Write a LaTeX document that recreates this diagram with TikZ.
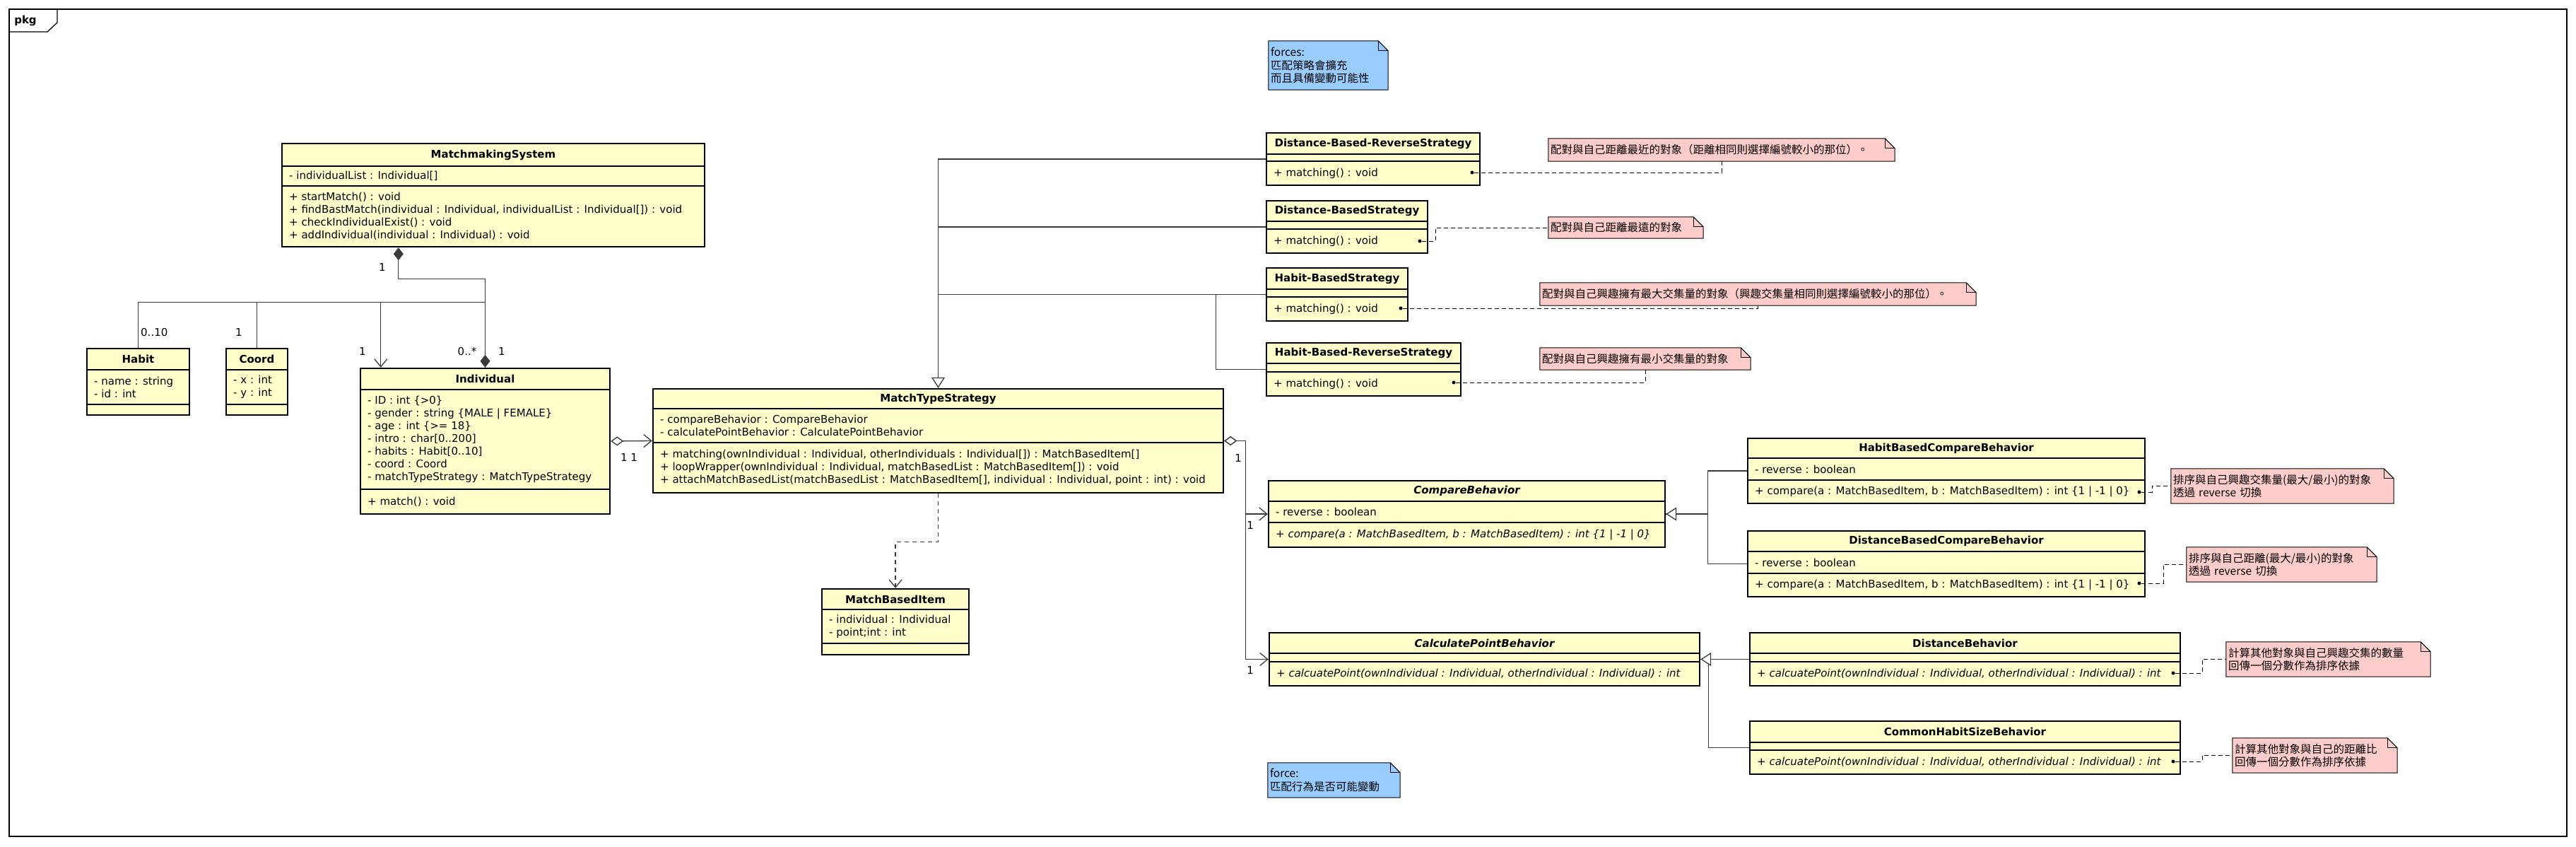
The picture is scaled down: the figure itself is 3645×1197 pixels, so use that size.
\documentclass[tikz,border=0pt]{standalone}
\usepackage{fontspec}
\setmainfont{DejaVu Sans}
\newfontfamily\cjk{Noto Sans CJK TC}
\usetikzlibrary{arrows.meta}
\definecolor{clsfill}{HTML}{FFFFCC}
\definecolor{pinknote}{HTML}{FFCCCC}
\definecolor{bluenote}{HTML}{99CCFF}
\definecolor{linegray}{HTML}{3A3A3A}
\tikzset{
  cls/.style={draw, line width=2.4pt, fill=clsfill, inner sep=0pt},
  sep/.style={line width=1.2pt},
  ttl/.style={font=\fontsize{15}{18}\selectfont\bfseries, inner sep=0pt},
  txt/.style={font=\fontsize{15}{18}\selectfont, align=left, inner sep=0pt, anchor=west},
  mult/.style={font=\fontsize{15}{18}\selectfont, inner sep=0pt},
  note/.style={inner xsep=3pt, inner ysep=0pt, align=left, font=\cjk\fontsize{15.5}{18.5}\selectfont},
  dot/.style={circle, fill, inner sep=0pt, minimum size=5pt},
  conn/.style={draw=linegray, line width=1.3pt},
  gen/.style={conn, -{Triangle[open, length=15pt, width=19pt, fill=white]}},
  agg/.style={conn, {Diamond[open, length=18pt, width=13pt, fill=white]}-{Straight Barb[length=11pt, width=18pt]}},
  comp/.style={conn, {Diamond[length=18pt, width=14pt]}-},
  assoc/.style={conn, -{Straight Barb[length=11pt, width=18pt]}},
  dep/.style={conn, dash pattern=on 6pt off 5pt, -{Straight Barb[length=11pt, width=18pt]}},
  noteln/.style={draw=black, line width=1pt, dash pattern=on 6pt off 4pt}
}
\begin{document}
\begin{tikzpicture}[x=1pt, y=-1pt]
  \useasboundingbox (0,0) rectangle (3645,1197);
  % frame
  \draw[line width=1.3pt] (13,13) rectangle (3632,1183);
  \draw[line width=1.3pt] (13,45) -- (67,45) -- (81,32) -- (81,13);
  \node[ttl] (pkg) at (36,29) {pkg};

  % MatchmakingSystem
  \node[cls, minimum width=598pt, minimum height=146pt] (ms) at (698,276) {};
  \draw[sep] (399,235) -- (997,235) (399,263) -- (997,263);
  \node[ttl] (msT) at (698,219) {MatchmakingSystem};
  \node[txt] (msA) at (409,249) {- individualList : Individual[]};
  \node[txt] (msM) at (409,306) {+ startMatch() : void\\+ findBastMatch(individual : Individual, individualList : Individual[]) : void\\+ checkIndividualExist() : void\\+ addIndividual(individual : Individual) : void};

  % Habit, Coord
  \node[cls, minimum width=145pt, minimum height=94pt] (habit) at (195.5,540) {};
  \draw[sep] (123,523) -- (268,523) (123,572) -- (268,572);
  \node[ttl] (habitT) at (195.5,508) {Habit};
  \node[txt] (habitA) at (133,547.5) {- name : string\\- id : int};
  \node[cls, minimum width=87pt, minimum height=94pt] (coord) at (363.5,540) {};
  \draw[sep] (320,523) -- (407,523) (320,572) -- (407,572);
  \node[ttl] (coordT) at (363.5,508) {Coord};
  \node[txt] (coordA) at (330,547.5) {- x : int\\- y : int};

  % Individual
  \node[cls, minimum width=353pt, minimum height=206pt] (indiv) at (686.5,624) {};
  \draw[sep] (510,551) -- (863,551) (510,692) -- (863,692);
  \node[ttl] (indivT) at (686.5,536) {Individual};
  \node[txt] (indivA) at (520,621.5) {- ID : int \{>0\}\\- gender : string \{MALE | FEMALE\}\\- age : int \{>= 18\}\\- intro : char[0..200]\\- habits : Habit[0..10]\\- coord : Coord\\- matchTypeStrategy : MatchTypeStrategy};
  \node[txt] (indivM) at (520,709.5) {+ match() : void};

  % MatchTypeStrategy
  \node[cls, minimum width=807pt, minimum height=147pt] (mts) at (1327.5,623.5) {};
  \draw[sep] (924,578) -- (1731,578) (924,626) -- (1731,626);
  \node[ttl] (mtsT) at (1327.5,564) {MatchTypeStrategy};
  \node[txt] (mtsA) at (934,602) {- compareBehavior : CompareBehavior\\- calculatePointBehavior : CalculatePointBehavior};
  \node[txt] (mtsM) at (934,661.5) {+ matching(ownIndividual : Individual, otherIndividuals : Individual[]) : MatchBasedItem[]\\+ loopWrapper(ownIndividual : Individual, matchBasedList : MatchBasedItem[]) : void\\+ attachMatchBasedList(matchBasedList : MatchBasedItem[], individual : Individual, point : int) : void};

  % MatchBasedItem
  \node[cls, minimum width=208pt, minimum height=93pt] (mbi) at (1267,879.5) {};
  \draw[sep] (1163,862) -- (1371,862) (1163,910) -- (1371,910);
  \node[ttl] (mbiT) at (1267,847.5) {MatchBasedItem};
  \node[txt] (mbiA) at (1173,886) {- individual : Individual\\- point;int : int};

  % strategies
  \node[cls, minimum width=302pt, minimum height=74pt] (dbrs) at (1943,225) {};
  \draw[sep] (1792,218) -- (2094,218) (1792,228) -- (2094,228);
  \node[ttl] (dbrsT) at (1943,203) {Distance-Based-ReverseStrategy};
  \node[txt] (dbrsM) at (1802,245) {+ matching() : void};
  \node[cls, minimum width=228pt, minimum height=74pt] (dbs) at (1906,321) {};
  \draw[sep] (1792,313) -- (2020,313) (1792,324) -- (2020,324);
  \node[ttl] (dbsT) at (1906,298.5) {Distance-BasedStrategy};
  \node[txt] (dbsM) at (1802,341) {+ matching() : void};
  \node[cls, minimum width=200pt, minimum height=75pt] (hbs) at (1892,416.5) {};
  \draw[sep] (1792,409) -- (1992,409) (1792,420) -- (1992,420);
  \node[ttl] (hbsT) at (1892,394) {Habit-BasedStrategy};
  \node[txt] (hbsM) at (1802,437) {+ matching() : void};
  \node[cls, minimum width=275pt, minimum height=75pt] (hbrs) at (1929.5,522.5) {};
  \draw[sep] (1792,514) -- (2067,514) (1792,526) -- (2067,526);
  \node[ttl] (hbrsT) at (1929.5,499.5) {Habit-Based-ReverseStrategy};
  \node[txt] (hbrsM) at (1802,543) {+ matching() : void};

  % compare behaviors
  \node[cls, minimum width=561pt, minimum height=94pt] (cb) at (2075.5,727) {};
  \draw[sep] (1795,709) -- (2356,709) (1795,739) -- (2356,739);
  \node[ttl, font=\fontsize{15}{18}\selectfont\bfseries\itshape] (cbT) at (2075.5,694.5) {CompareBehavior};
  \node[txt] (cbA) at (1805,724) {- reverse : boolean};
  \node[txt, font=\fontsize{15}{18}\selectfont\itshape] (cbM) at (1805,756.5) {+ compare(a : MatchBasedItem, b : MatchBasedItem) : int \{1 | -1 | 0\}};
  \node[cls, minimum width=562pt, minimum height=92pt] (hbcb) at (2754,666) {};
  \draw[sep] (2473,648) -- (3035,648) (2473,679) -- (3035,679);
  \node[ttl] (hbcbT) at (2754,634) {HabitBasedCompareBehavior};
  \node[txt] (hbcbA) at (2483,663.5) {- reverse : boolean};
  \node[txt] (hbcbM) at (2483,695.5) {+ compare(a : MatchBasedItem, b : MatchBasedItem) : int \{1 | -1 | 0\}};
  \node[cls, minimum width=562pt, minimum height=93pt] (dbcb) at (2754,797.5) {};
  \draw[sep] (2473,780) -- (3035,780) (2473,811) -- (3035,811);
  \node[ttl] (dbcbT) at (2754,765.5) {DistanceBasedCompareBehavior};
  \node[txt] (dbcbA) at (2483,795.5) {- reverse : boolean};
  \node[txt] (dbcbM) at (2483,827.5) {+ compare(a : MatchBasedItem, b : MatchBasedItem) : int \{1 | -1 | 0\}};

  % point behaviors
  \node[cls, minimum width=609pt, minimum height=75pt] (cpb) at (2100.5,932.5) {};
  \draw[sep] (1796,924) -- (2405,924) (1796,936) -- (2405,936);
  \node[ttl, font=\fontsize{15}{18}\selectfont\bfseries\itshape] (cpbT) at (2100.5,909.5) {CalculatePointBehavior};
  \node[txt, font=\fontsize{15}{18}\selectfont\itshape] (cpbM) at (1806,953) {+ calcuatePoint(ownIndividual : Individual, otherIndividual : Individual) : int};
  \node[cls, minimum width=609pt, minimum height=75pt] (db) at (2780.5,932.5) {};
  \draw[sep] (2476,924) -- (3085,924) (2476,936) -- (3085,936);
  \node[ttl] (dbT) at (2780.5,909.5) {DistanceBehavior};
  \node[txt, font=\fontsize{15}{18}\selectfont\itshape] (dbM) at (2486,953) {+ calcuatePoint(ownIndividual : Individual, otherIndividual : Individual) : int};
  \node[cls, minimum width=609pt, minimum height=75pt] (chsb) at (2780.5,1057.5) {};
  \draw[sep] (2476,1050) -- (3085,1050) (2476,1061) -- (3085,1061);
  \node[ttl] (chsbT) at (2780.5,1035) {CommonHabitSizeBehavior};
  \node[txt, font=\fontsize{15}{18}\selectfont\itshape] (chsbM) at (2486,1078) {+ calcuatePoint(ownIndividual : Individual, otherIndividual : Individual) : int};

  % notes
  \node[note, fill=bluenote, text width=163pt, minimum height=69pt] (n0) at (1879.5,92.5) {forces:\\匹配策略會擴充\\而且具備變動可能性};
  \node[note, fill=pinknote, text width=484pt, minimum height=32pt] (n1) at (2436,212) {配對與自己距離最近的對象（距離相同則選擇編號較小的那位）。};
  \node[note, fill=pinknote, text width=213pt, minimum height=30pt] (n2) at (2300.5,322) {配對與自己距離最遠的對象};
  \node[note, fill=pinknote, text width=611pt, minimum height=32pt] (n3) at (2487.5,416) {配對與自己興趣擁有最大交集量的對象（興趣交集量相同則選擇編號較小的那位）。};
  \node[note, fill=pinknote, text width=292pt, minimum height=31pt] (n4) at (2328,507.5) {配對與自己興趣擁有最小交集量的對象};
  \node[note, fill=pinknote, text width=309pt, minimum height=49pt] (n5) at (3229.5,687.5) {排序與自己興趣交集量(最大/最小)的對象\\透過 reverse 切換};
  \node[note, fill=pinknote, text width=263pt, minimum height=49pt] (n6) at (3228.5,798.5) {排序與自己距離(最大/最小)的對象\\透過 reverse 切換};
  \node[note, fill=pinknote, text width=283pt, minimum height=49pt] (n7) at (3294.5,932.5) {計算其他對象與自己興趣交集的數量\\回傳一個分數作為排序依據};
  \node[note, fill=pinknote, text width=227pt, minimum height=49pt] (n8) at (3275.5,1068.5) {計算其他對象與自己的距離比\\回傳一個分數作為排序依據};
  \node[note, fill=bluenote, text width=181pt, minimum height=49pt] (n9) at (1887.5,1103.5) {force:\\匹配行為是否可能變動};
  \foreach \n in {n0,n1,n2,n3,n4,n5,n6,n7,n8,n9} {
    \fill[white] ([xshift=-14pt]\n.north east) -- (\n.north east) -- ([yshift=-14pt]\n.north east) -- cycle;
    \draw[line width=1pt] (\n.south west) -- (\n.north west) -- ([xshift=-14pt]\n.north east) -- ([yshift=-14pt]\n.north east) -- (\n.south east) -- cycle;
    \draw[line width=1pt] ([xshift=-14pt]\n.north east) |- ([yshift=-14pt]\n.north east);
  }

  % note anchors
  \node[dot] (p1) at (2083,244) {};
  \node[dot] (p2) at (2009,341) {};
  \node[dot] (p3) at (1982,436) {};
  \node[dot] (p4) at (2057,541) {};
  \node[dot] (p5) at (3027,696) {};
  \node[dot] (p6) at (3027,825) {};
  \node[dot] (p7) at (3075,952) {};
  \node[dot] (p8) at (3075,1077) {};
  \draw[noteln] (p1) -| (n1.south);
  \draw[noteln] (p2) -- ++(22,0) |- (n2.west);
  \draw[noteln] (p3) -| (n3.south);
  \draw[noteln] (p4) -| (n4.south);
  \draw[noteln] (p5) -- ++(18,0) |- (n5.west);
  \draw[noteln] (p6) -- ++(34,0) |- (n6.west);
  \draw[noteln] (p7) -- ++(41,0) |- (n7.west);
  \draw[noteln] (p8) -- ++(41,0) |- (n8.west);

  % associations
  \draw[comp] ([xshift=166pt]ms.south west) -- ++(0,44) -| (indiv.north);
  \draw[conn] (indiv.north) ++(0,-92) -| (coord.north);
  \draw[assoc] (indiv.north) ++(0,-92) -| ([xshift=30pt]indiv.north west);
  \draw[comp] (indiv.north) -- ++(0,-92) -| (habit.north);
  \draw[agg] (indiv.east) -- (mts.west);
  \draw[agg] (mts.east) -- ++(30,0) |- (cb.west);
  \draw[agg] (mts.east) -- ++(30,0) |- (cpb.west);
  \draw[dep] (mts.south) -- ++(0,68) -| (mbi.north);

  % generalizations
  \draw[conn] (dbs.west) -| (mts.north);
  \draw[conn] (hbs.west) -| (mts.north);
  \draw[conn] (hbrs.west) -- ++(-70,0) |- (hbs.west);
  \draw[gen] (dbrs.west) -| (mts.north);
  \draw[conn] (dbcb.west) -- ++(-55,0) |- (cb.east);
  \draw[gen] (hbcb.west) -- ++(-55,0) |- (cb.east);
  \draw[conn] (chsb.west) -- ++(-57,0) |- (cpb.east);
  \draw[gen] (db.west) -- (cpb.east);

  % multiplicities
  \node[mult] (m1) at (541,378) {1};
  \node[mult, anchor=west] (m2) at (199,470) {0..10};
  \node[mult] (m3) at (338,470) {1};
  \node[mult] (m4) at (513,497) {1};
  \node[mult] (m5) at (661,497) {0..*};
  \node[mult] (m6) at (710,497) {1};
  \node[mult] (m7) at (890,647) {1 1};
  \node[mult] (m8) at (1752,648) {1};
  \node[mult] (m9) at (1769,743) {1};
  \node[mult] (m10) at (1769,948) {1};
\end{tikzpicture}
\end{document}
